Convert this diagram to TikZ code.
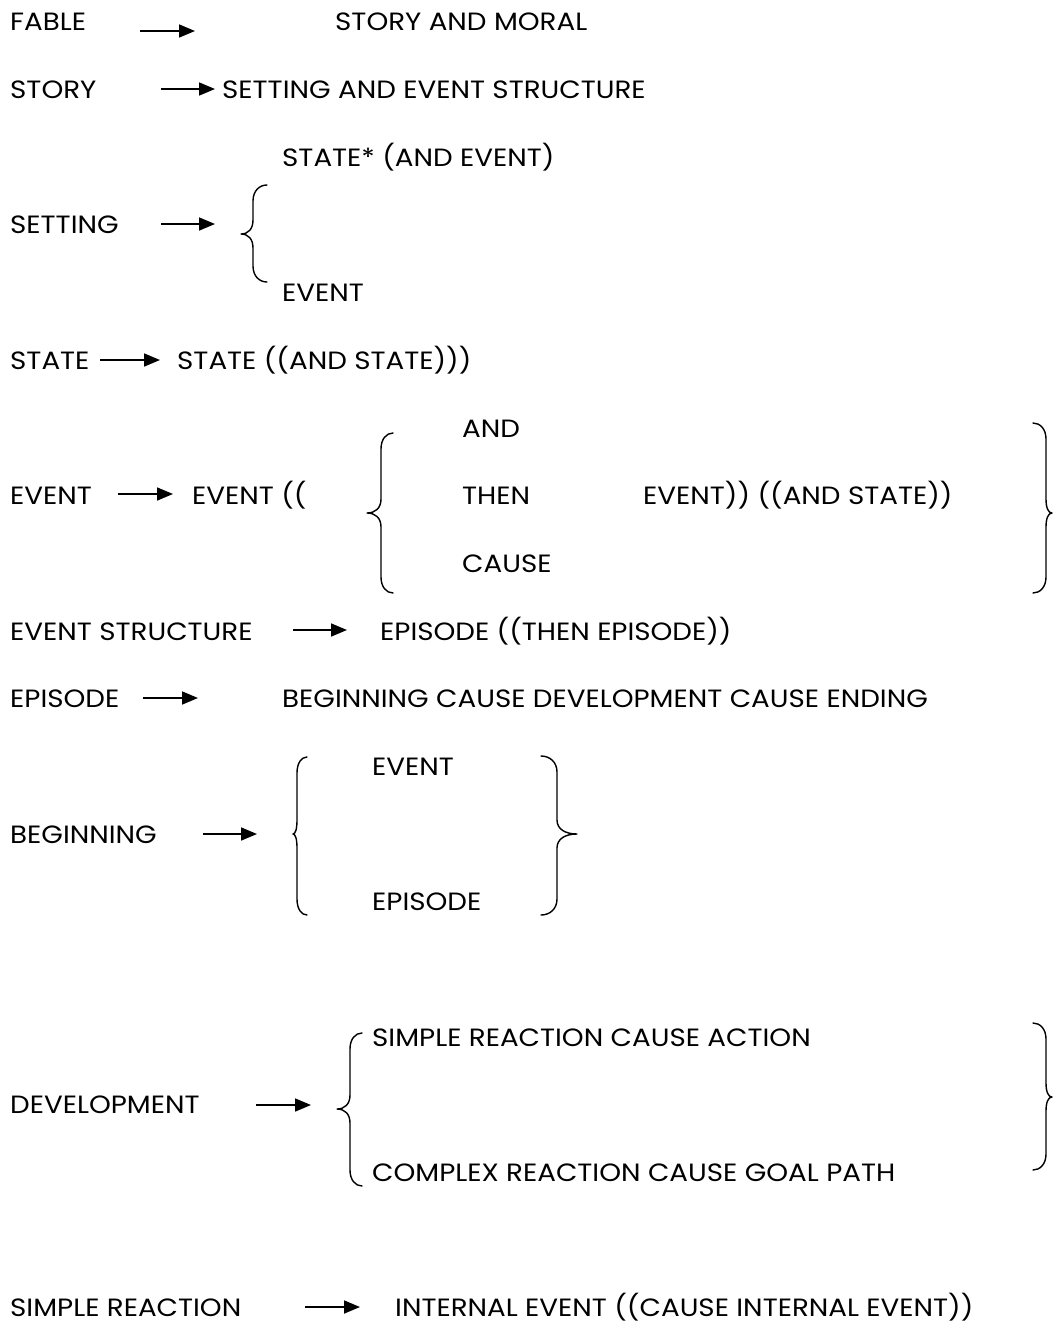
\documentclass[tikz,border=0pt]{standalone}
\usepackage{fontspec}
\setmainfont{Poppins}[FakeStretch=1.11]
\usetikzlibrary{arrows.meta}
\begin{document}
\begin{tikzpicture}[x=1pt,y=-1pt,
  lbl/.style={anchor=base west,inner sep=0pt,font=\fontsize{25}{30}\selectfont},
  arr/.style={line width=1.7pt,-{Triangle[length=16pt,width=13pt]}},
  br/.style={line width=1.4pt,line cap=round,line join=round}]
% page frame
\useasboundingbox (0,0) rectangle (1053,1323);
% curly brace: end x, spine x, tip x, top y, middle y, bottom y
\newcommand\curlybr[6]{%
  \draw[br] (#1,#4) .. controls ({0.45*#1+0.55*#2},#4) and (#2,#4+6) .. (#2,#4+16)
    -- (#2,#5-14)
    .. controls (#2,#5-5) and ({0.6*#2+0.4*#3},#5) .. (#3,#5)
    .. controls ({0.6*#2+0.4*#3},#5) and (#2,#5+5) .. (#2,#5+14)
    -- (#2,#6-16) .. controls (#2,#6-6) and ({0.45*#1+0.55*#2},#6) .. (#1,#6);}

% FABLE
\node[lbl] (fable) at (10,30) {FABLE};
\node[lbl] (fableR) at (335,30) {STORY AND MORAL};
\coordinate (f1) at (140,31); \coordinate (f2) at (195,31);
\draw[arr] (f1) -- (f2);

% STORY
\node[lbl] (story) at (10,98) {STORY};
\node[lbl] (storyR) at (222,98) {SETTING AND EVENT STRUCTURE};
\coordinate (s1) at (161,89); \coordinate (s2) at (215,89);
\draw[arr] (s1) -- (s2);

% SETTING
\node[lbl] (setA) at (282,166) {STATE* (AND EVENT)};
\node[lbl] (setting) at (10,233) {SETTING};
\node[lbl] (setB) at (282,301) {EVENT};
\coordinate (g1) at (161,224); \coordinate (g2) at (215,224);
\draw[arr] (g1) -- (g2);
\curlybr{267}{253}{241}{185}{234}{282}

% STATE
\node[lbl] (state) at (10,369) {STATE};
\node[lbl] (stateR) at (177,369) {STATE ((AND STATE)))};
\coordinate (t1) at (100,360); \coordinate (t2) at (160,360);
\draw[arr] (t1) -- (t2);

% EVENT
\node[lbl] (evAnd) at (462,437) {AND};
\node[lbl] (event) at (10,504) {EVENT};
\node[lbl] (evL) at (192,504) {EVENT ((};
\node[lbl] (evThen) at (462,504) {THEN};
\node[lbl] (evR) at (643,504) {EVENT)) ((AND STATE))};
\node[lbl] (evCause) at (462,572) {CAUSE};
\coordinate (e1) at (118,494); \coordinate (e2) at (173,494);
\draw[arr] (e1) -- (e2);
\curlybr{393}{381}{367}{433}{513}{593}
\curlybr{1033}{1046}{1052}{423}{513}{593}

% EVENT STRUCTURE
\node[lbl] (evs) at (10,640) {EVENT STRUCTURE};
\node[lbl] (evsR) at (380,640) {EPISODE ((THEN EPISODE))};
\coordinate (v1) at (293,630); \coordinate (v2) at (347,630);
\draw[arr] (v1) -- (v2);

% EPISODE
\node[lbl] (epi) at (10,707) {EPISODE};
\node[lbl] (epiR) at (282,707) {BEGINNING CAUSE DEVELOPMENT CAUSE ENDING};
\coordinate (p1) at (143,698); \coordinate (p2) at (198,698);
\draw[arr] (p1) -- (p2);

% BEGINNING
\node[lbl] (begA) at (372,775) {EVENT};
\node[lbl] (beg) at (10,843) {BEGINNING};
\node[lbl] (begB) at (372,910) {EPISODE};
\coordinate (b1) at (203,834); \coordinate (b2) at (257,834);
\draw[arr] (b1) -- (b2);
\curlybr{307}{297}{293}{757}{834}{915}
\curlybr{541}{557}{577}{756}{834}{915}

% DEVELOPMENT
\node[lbl] (devA) at (372,1046) {SIMPLE REACTION CAUSE ACTION};
\node[lbl] (dev) at (10,1113) {DEVELOPMENT};
\node[lbl] (devB) at (372,1181) {COMPLEX REACTION CAUSE GOAL PATH};
\coordinate (d1) at (256,1105); \coordinate (d2) at (311,1105);
\draw[arr] (d1) -- (d2);
\curlybr{362}{350}{337}{1033}{1109}{1186}
\curlybr{1033}{1046}{1052}{1023}{1097}{1170}

% SIMPLE REACTION
\node[lbl] (sr) at (10,1316) {SIMPLE REACTION};
\node[lbl] (srR) at (395,1316) {INTERNAL EVENT ((CAUSE INTERNAL EVENT))};
\coordinate (r1) at (305,1307); \coordinate (r2) at (360,1307);
\draw[arr] (r1) -- (r2);
\end{tikzpicture}
\end{document}
